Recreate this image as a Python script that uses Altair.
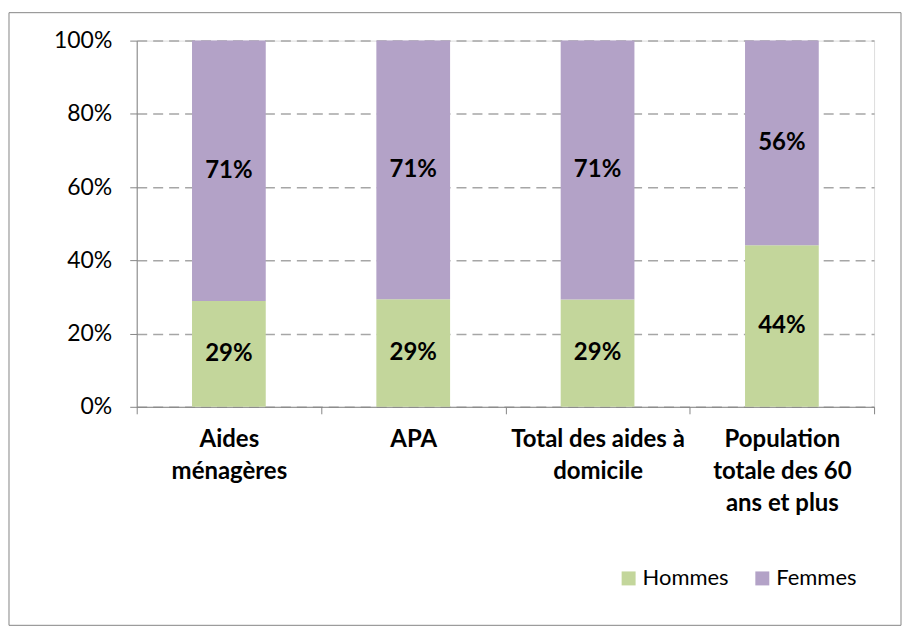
import altair as alt
import pandas as pd

categories = ["Aides|ménagères", "APA", "Total des aides à|domicile",
              "Population|totale des 60|ans et plus"]
hommes = [28.9, 29.4, 29.3, 44.1]
femmes = [71.1, 70.6, 70.7, 55.9]
series = ["Hommes", "Femmes"]
colors = ["#C3D69B", "#B3A2C7"]
y_ticks = [0, 20, 40, 60, 80, 100]

rows = []
for i, c in enumerate(categories):
    rows.append({"cat": c, "sexe": series[0], "ord": 0, "val": hommes[i]})
    rows.append({"cat": c, "sexe": series[1], "ord": 1, "val": femmes[i]})
df = pd.DataFrame(rows)

FONT = "Lato"
GRAY = "#868686"

base = alt.Chart(df).transform_stack(
    stack="val", groupby=["cat"], sort=[alt.SortField("ord")], as_=["y0", "y1"]
).transform_calculate(
    mid="(datum.y0 + datum.y1) / 2",
    lab="round(datum.val) + '%'",
)

x_enc = alt.X(
    "cat:N", sort=categories,
    scale=alt.Scale(paddingInner=0, paddingOuter=0),
    axis=alt.Axis(
        title=None, labelAngle=0, labelExpr="split(datum.label, '|')",
        tickBand="extent", tickSize=7, tickColor=GRAY, domainColor=GRAY,
        labelFont=FONT, labelFontSize=24, labelFontWeight="bold", labelColor="#000000",
        labelPadding=14, labelLineHeight=32, labelBaseline="top", grid=False,
    ),
)

bars = base.mark_bar(width=alt.RelativeBandSize(0.4)).encode(
    x=x_enc,
    y=alt.Y(
        "y0:Q", scale=alt.Scale(domain=[0, 100], nice=False),
        axis=alt.Axis(
            title=None, values=y_ticks, labelExpr="datum.value + '%'",
            tickSize=7, tickColor=GRAY, domainColor=GRAY,
            labelFont=FONT, labelFontSize=23, labelColor="#000000", labelPadding=18,
            grid=True, gridDash=[10, 6], gridColor="#A6A6A6", gridWidth=1.5,
        ),
    ),
    y2="y1:Q",
    color=alt.Color(
        "sexe:N", scale=alt.Scale(domain=series, range=colors),
        legend=alt.Legend(
            title=None, orient="none", legendX=482, legendY=528,
            direction="horizontal", symbolType="square", symbolSize=196,
            symbolStrokeWidth=0, labelFont=FONT, labelFontSize=22,
            labelColor="#000000", columnPadding=22, labelOffset=3,
        ),
    ),
)

labels = base.mark_text(font=FONT, fontSize=24, fontWeight="bold", color="#000000").encode(
    x=alt.X("cat:N", sort=categories),
    y=alt.Y("mid:Q"),
    text="lab:N",
)

border = alt.Chart(pd.DataFrame({"b": [0]})).mark_rect(
    fill="transparent", stroke=GRAY, strokeWidth=1, clip=False
).encode(
    x=alt.value(-128), x2=alt.value(766), y=alt.value(-28), y2=alt.value(586)
)

chart = alt.layer(bars, labels, border).properties(
    width=739, height=367,
    autosize=alt.AutoSizeParams(type="none"),
    padding={"left": 129, "top": 32, "right": 30, "bottom": 225},
).configure_view(stroke=None).configure(background="white")

chart.save("out.html", embed_options={"renderer": "svg", "actions": False})
